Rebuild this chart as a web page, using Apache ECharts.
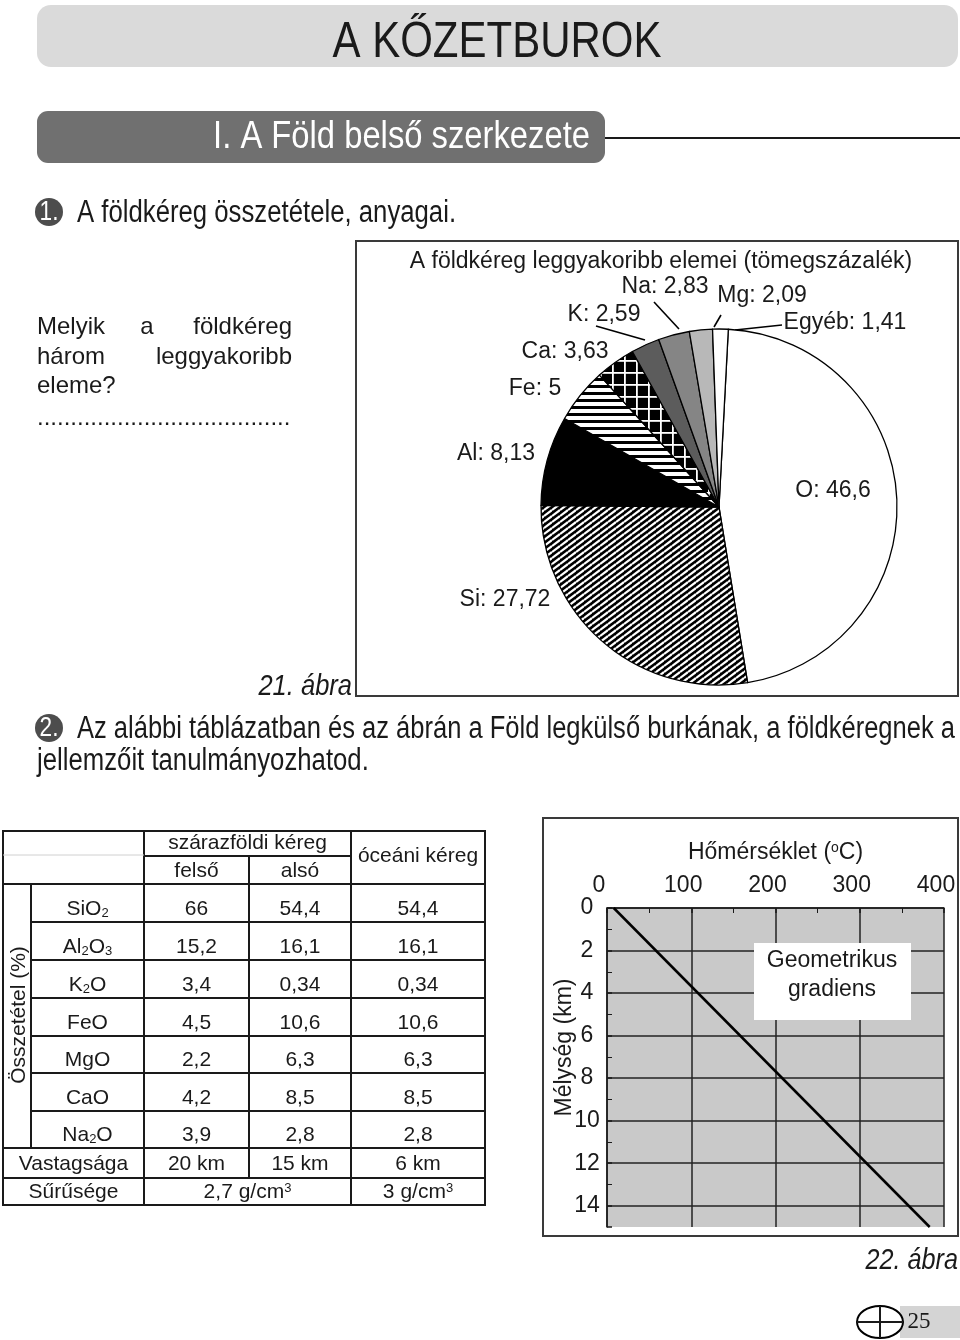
<!DOCTYPE html>
<html><head><meta charset="utf-8">
<script src="https://cdn.jsdelivr.net/npm/echarts@6/dist/echarts.min.js"></script>
<style>html,body{margin:0;padding:0;background:#fff}#c{width:960px;height:1340px}</style>
</head><body><div id="c"></div>
<script>
// ---------- data ----------
const pieNames = ['O', 'Si', 'Al', 'Fe', 'Ca', 'K', 'Na', 'Mg', 'Egyéb'];
const pieValues = [46.6, 27.72, 8.13, 5, 3.63, 2.59, 2.83, 2.09, 1.41];

const compounds = ['SiO2', 'Al2O3', 'K2O', 'FeO', 'MgO', 'CaO', 'Na2O'];
const upperCrust = [66, 15.2, 3.4, 4.5, 2.2, 4.2, 3.9];
const lowerCrust = [54.4, 16.1, 0.34, 10.6, 6.3, 8.5, 2.8];
const oceanicCrust = [54.4, 16.1, 0.34, 10.6, 6.3, 8.5, 2.8];
const thicknessKm = [20, 15, 6];
const densityContinental = 2.7;
const densityOceanic = 3;

const tempTicks = [0, 100, 200, 300, 400];
const depthTicks = [0, 2, 4, 6, 8, 10, 12, 14];
const depthMax = 15;
const gradientTemp = [8, 383];
const gradientDepth = [0, 15];

// ---------- styles / layout ----------
const SANS = '"Liberation Sans", Arial, sans-serif';
const INK = '#1a1a1a';
const NX = 0.84; // horizontal squeeze for the condensed headline type
const fmt = v => String(v).replace('.', ',');

function pattern(w, h, draw) {
  const c = document.createElement('canvas');
  c.width = w; c.height = h;
  const g = c.getContext('2d');
  draw(g, w, h);
  return { image: c, repeat: 'repeat' };
}
const patSi = pattern(8, 6, (g, w, h) => {
  g.fillStyle = '#000'; g.fillRect(0, 0, w, h);
  g.strokeStyle = '#fff'; g.lineWidth = 2.2;
  for (const k of [-h, 0, h]) { g.beginPath(); g.moveTo(0, h + k); g.lineTo(w, k); g.stroke(); }
});
const patFe = pattern(4, 7, (g, w, h) => {
  g.fillStyle = '#fff'; g.fillRect(0, 0, w, h);
  g.fillStyle = '#000'; g.fillRect(0, 0, w, 3);
});
const patCa = pattern(12, 12, (g, w, h) => {
  g.fillStyle = '#000'; g.fillRect(0, 0, w, h);
  g.fillStyle = '#fff'; g.fillRect(0, 0, w, 1.8); g.fillRect(0, 0, 1.8, h);
});
const pieFills = ['#ffffff', patSi, '#000000', patFe, patCa, '#5c5c5c', '#858585', '#b8b8b8', '#ffffff'];
const pieLabelPos = [[833, 491], [505, 600], [496, 454], [535, 389], [565, 352], [604, 315], [665, 287], [762, 296], [845, 323]];
const pieLeader = [null, null, null, null, null,
  [[596, 326], [645, 340]], [[654, 302], [679, 329]], [[721, 315], [714, 327]], [[782, 325], [735, 330]]];

// ---------- graphic helpers ----------
const G = [];
function txt(x, y, text, o = {}) {
  G.push({ type: 'text', x, y, z: o.z || 5, rotation: o.rotation || 0, scaleX: o.sx || 1, style: {
    text, fill: o.fill || INK, fontSize: o.size || 21, fontFamily: o.family || SANS,
    fontStyle: o.style || 'normal', fontWeight: o.weight || 'normal',
    align: o.align || 'center', verticalAlign: o.va || 'middle', rich: o.rich, lineHeight: o.lh } });
}
function rect(x, y, w, h, o = {}) {
  G.push({ type: 'rect', z: o.z || 1, shape: { x, y, width: w, height: h, r: o.r || 0 },
    style: { fill: o.fill || 'none', stroke: o.stroke || null, lineWidth: o.lw || 1 } });
}
function line(x1, y1, x2, y2, o = {}) {
  G.push({ type: 'line', z: o.z || 3, shape: { x1, y1, x2, y2 },
    style: { stroke: o.stroke || INK, lineWidth: o.lw || 2 } });
}

// ---------- page header ----------
rect(37, 5, 921, 62, { r: 14, fill: '#dadada' });
txt(497, 43, 'A KŐZETBUROK', { size: 50, sx: NX });
rect(37, 111, 568, 52, { r: 11, fill: '#707070' });
txt(590, 137, 'I. A Föld belső szerkezete', { size: 39, sx: NX, fill: '#fff', align: 'right' });
line(605, 138, 960, 138, { lw: 2 });

G.push({ type: 'circle', z: 2, shape: { cx: 49, cy: 212, r: 14 }, style: { fill: '#4d4d4d' } });
txt(49, 213, '1.', { size: 27, sx: NX, fill: '#fff' });
txt(77, 213, 'A földkéreg összetétele, anyagai.', { size: 31, sx: 0.83, align: 'left' });

// question
txt(37, 327, 'Melyik', { size: 24, align: 'left' });
txt(147, 327, 'a', { size: 24 });
txt(292, 327, 'földkéreg', { size: 24, align: 'right' });
txt(37, 357, 'három', { size: 24, align: 'left' });
txt(292, 357, 'leggyakoribb', { size: 24, align: 'right' });
txt(37, 386, 'eleme?', { size: 24, align: 'left' });
txt(37, 418, '......................................', { size: 24, align: 'left' });

// pie frame
rect(356, 241, 602, 455, { stroke: '#3a3a3a', lw: 2 });
txt(661, 262, 'A földkéreg leggyakoribb elemei (tömegszázalék)', { size: 23 });
txt(352, 687, '21. ábra', { size: 30, sx: 0.85, style: 'italic', align: 'right' });

// paragraph 2
G.push({ type: 'circle', z: 2, shape: { cx: 49, cy: 728, r: 14 }, style: { fill: '#4d4d4d' } });
txt(49, 729, '2.', { size: 27, sx: NX, fill: '#fff' });
txt(77, 729, 'Az alábbi táblázatban és az ábrán a Föld legkülső burkának, a földkéregnek a', { size: 31, sx: 0.823, align: 'left' });
txt(37, 761, 'jellemzőit tanulmányozhatod.', { size: 31, sx: 0.83, align: 'left' });

// ---------- table ----------
const colX = [3, 31, 144, 249, 351, 485];
const rowY = [831, 856, 884, 922, 960, 998, 1036, 1073, 1111, 1148, 1178, 1205];
const TS = 21;
const richTable = {
  n: { fontSize: TS, fontFamily: SANS, color: INK },
  s: { fontSize: 13, fontFamily: SANS, color: INK, verticalAlign: 'bottom' },
  p: { fontSize: 13, fontFamily: SANS, color: INK, verticalAlign: 'top' }
};
function chem(s) {
  return s.split(/(\d+)/).map((p, i) => i % 2 ? `{s|${p}}` : (p ? `{n|${p}}` : '')).join('');
}
rect(colX[0], rowY[0], colX[5] - colX[0], rowY[11] - rowY[0], { stroke: INK, lw: 2, z: 3 });
line(colX[2], rowY[0], colX[2], rowY[11]);
line(colX[4], rowY[0], colX[4], rowY[11]);
line(colX[3], rowY[1], colX[3], rowY[10]);
line(colX[1], rowY[2], colX[1], rowY[9]);
line(colX[2], rowY[1], colX[4], rowY[1]);
line(colX[0], rowY[1] - 1, colX[2], rowY[1] - 1, { stroke: '#d0d0d0', lw: 1 });
[2, 9, 10].forEach(r => line(colX[0], rowY[r], colX[5], rowY[r]));
for (let r = 3; r <= 8; r++) line(colX[1], rowY[r], colX[5], rowY[r]);

const cxCol = [(colX[2] + colX[3]) / 2, (colX[3] + colX[4]) / 2, (colX[4] + colX[5]) / 2];
txt((colX[2] + colX[4]) / 2, 843, 'szárazföldi kéreg', { size: TS });
txt(cxCol[0], 871, 'felső', { size: TS });
txt(cxCol[1], 871, 'alsó', { size: TS });
txt(cxCol[2], 856, 'óceáni kéreg', { size: TS });
txt(19, 1015, 'Összetétel (%)', { size: 21, rotation: Math.PI / 2 });
compounds.forEach((c, i) => {
  const y = (rowY[2 + i] + rowY[3 + i]) / 2 + 6;
  txt((colX[1] + colX[2]) / 2, y, chem(c), { rich: richTable });
  txt(cxCol[0], y, fmt(upperCrust[i]), { size: TS });
  txt(cxCol[1], y, fmt(lowerCrust[i]), { size: TS });
  txt(cxCol[2], y, fmt(oceanicCrust[i]), { size: TS });
});
const yThick = (rowY[9] + rowY[10]) / 2 + 1;
txt((colX[0] + colX[2]) / 2, yThick, 'Vastagsága', { size: TS });
thicknessKm.forEach((t, i) => txt(cxCol[i], yThick, t + ' km', { size: TS }));
const yDens = (rowY[10] + rowY[11]) / 2 + 1;
txt((colX[0] + colX[2]) / 2, yDens, 'Sűrűsége', { size: TS });
txt((colX[2] + colX[4]) / 2, yDens, `{n|${fmt(densityContinental)} g/cm}{p|3}`, { rich: richTable });
txt(cxCol[2], yDens, `{n|${fmt(densityOceanic)} g/cm}{p|3}`, { rich: richTable });

// ---------- line chart frame ----------
rect(543, 818, 415, 418, { stroke: '#3a3a3a', lw: 2 });
rect(754, 943, 157, 77, { fill: '#fff', z: 20 });
txt(832, 975, 'Geometrikus\ngradiens', { size: 23, lh: 29, z: 21 });
txt(958, 1261, '22. ábra', { size: 30, sx: 0.84, style: 'italic', align: 'right' });

// ---------- page number ----------
rect(900, 1306, 60, 32, { fill: '#d4d4d4' });
G.push({ type: 'ellipse', z: 4, shape: { cx: 880, cy: 1322, rx: 23, ry: 16 }, style: { fill: '#fff', stroke: '#000', lineWidth: 2 } });
line(880, 1306, 880, 1338, { z: 5, lw: 2 });
line(857, 1322, 903, 1322, { z: 5, lw: 2 });
txt(919, 1322, '25', { size: 23, family: '"Liberation Serif", "DejaVu Serif", serif' });

// ---------- chart ----------
const chart = echarts.init(document.getElementById('c'), null, { renderer: 'canvas' });
const axisText = { fontSize: 23, fontFamily: SANS, color: INK };
chart.setOption({
  animation: false,
  backgroundColor: '#fff',
  graphic: { elements: G },
  grid: { left: 607, top: 908, width: 337, height: 319, show: true, backgroundColor: '#c9c9c9', borderWidth: 0, containLabel: false },
  xAxis: {
    type: 'value', position: 'top',
    min: tempTicks[0], max: tempTicks[tempTicks.length - 1], interval: tempTicks[1] - tempTicks[0],
    name: '{a|Hőmérséklet (}{b|o}{a|C)}', nameLocation: 'middle', nameGap: 44,
    nameTextStyle: { rich: { a: axisText, b: { fontSize: 14, fontFamily: SANS, color: INK, verticalAlign: 'top' } } },
    axisLine: { show: true, lineStyle: { color: INK, width: 1.5 } },
    axisTick: { show: true, inside: true, length: 5, lineStyle: { color: INK, width: 1.5 } },
    minorTick: { show: true, splitNumber: 2, length: 5, lineStyle: { color: INK, width: 1 } },
    axisLabel: Object.assign({ margin: 11, padding: [0, 16, 0, 0] }, axisText),
    splitLine: { show: true, lineStyle: { color: '#222', width: 1.5 } }
  },
  yAxis: {
    type: 'value', inverse: true,
    min: depthTicks[0], max: depthMax, interval: depthTicks[1] - depthTicks[0],
    name: 'Mélység (km)', nameLocation: 'middle', nameGap: 31, nameRotate: 90, nameMoveOverlap: false,
    nameTextStyle: Object.assign({ padding: [0, 0, 0, 40] }, axisText),
    axisLine: { show: true, lineStyle: { color: INK, width: 1.5 } },
    axisTick: { show: true, inside: true, length: 5, lineStyle: { color: INK, width: 1.5 } },
    minorTick: { show: true, splitNumber: 2, length: 5, lineStyle: { color: INK, width: 1 } },
    axisLabel: Object.assign({ margin: 20, align: 'center', showMaxLabel: false }, axisText),
    splitLine: { show: true, showMaxLine: false, lineStyle: { color: '#222', width: 1.5 } }
  },
  series: [
    {
      type: 'line', name: 'Geometrikus gradiens',
      data: gradientTemp.map((t, i) => [t, gradientDepth[i]]),
      showSymbol: false, symbol: 'none',
      lineStyle: { color: '#000', width: 2.5 }, silent: true, z: 3
    },
    {
      type: 'pie', center: [719, 507], radius: 178, startAngle: 87, clockwise: true,
      avoidLabelOverlap: false, minShowLabelAngle: 0, silent: true,
      itemStyle: { borderColor: '#000', borderWidth: 1.3 },
      label: { show: true, position: 'outside', fontSize: 23, fontFamily: SANS, color: INK,
        formatter: p => p.name + ': ' + fmt(p.value) },
      labelLine: { show: true, length: 6, length2: 0, smooth: false, lineStyle: { color: '#000', width: 1.6 } },
      labelLayout: p => {
        const pos = pieLabelPos[p.dataIndex], ld = pieLeader[p.dataIndex];
        const o = { x: pos[0], y: pos[1], align: 'center', verticalAlign: 'middle' };
        if (ld) o.labelLinePoints = [ld[0], ld[0], ld[1]];
        return o;
      },
      emphasis: { disabled: true },
      data: pieNames.map((n, i) => ({
        name: n, value: pieValues[i],
        itemStyle: { color: pieFills[i] },
        labelLine: { show: !!pieLeader[i] }
      }))
    }
  ]
});
</script></body></html>
